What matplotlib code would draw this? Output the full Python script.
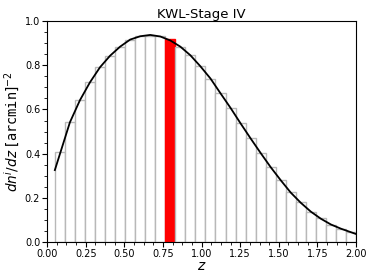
import matplotlib
matplotlib.use("Agg")
import matplotlib.pyplot as plt
import numpy as np
from matplotlib.ticker import MultipleLocator

# bin edges / heights
bin_left = [0.05, 0.115, 0.18, 0.245, 0.31, 0.375, 0.44, 0.505, 0.57, 0.635,
            0.70, 0.765, 0.83, 0.895, 0.96, 1.025, 1.09, 1.155, 1.22, 1.285,
            1.35, 1.415, 1.48, 1.545, 1.61, 1.675, 1.74, 1.805, 1.87, 1.935]
bin_width = 0.065
bar_heights = [0.409, 0.542, 0.642, 0.723, 0.791, 0.843, 0.884, 0.916, 0.931, 0.934,
               0.930, 0.917, 0.884, 0.845, 0.795, 0.740, 0.673, 0.607, 0.537, 0.469,
               0.403, 0.339, 0.282, 0.226, 0.181, 0.138, 0.108, 0.078, 0.060, 0.045]
highlight_bin = 11

curve_z = [0.05, 0.1475, 0.2125, 0.2775, 0.3425, 0.4075, 0.4725, 0.5375, 0.6025,
           0.6675, 0.7325, 0.7975, 0.8625, 0.9275, 0.9925, 1.0575, 1.1225, 1.1875,
           1.2525, 1.3175, 1.3825, 1.4475, 1.5125, 1.5775, 1.6425, 1.7075, 1.7725,
           1.8375, 1.9025, 1.9675, 2.0]
curve_n = [0.326, 0.542, 0.642, 0.723, 0.791, 0.843, 0.884, 0.916, 0.931, 0.937,
           0.930, 0.912, 0.884, 0.845, 0.795, 0.740, 0.673, 0.607, 0.537, 0.469,
           0.403, 0.339, 0.280, 0.224, 0.178, 0.138, 0.106, 0.080, 0.061, 0.045, 0.037]

fig = plt.figure(figsize=(3.74, 2.80), dpi=100)
ax = fig.add_axes([0.126, 0.135, 0.826, 0.79])

colors = ['white'] * len(bin_left)
edges = ['#b8b8b8'] * len(bin_left)
colors[highlight_bin] = 'red'
edges[highlight_bin] = 'red'
ax.bar(bin_left, bar_heights, width=bin_width, align='edge', color=colors,
       edgecolor=edges, linewidth=1.0, zorder=1)
ax.plot(curve_z, curve_n, color='black', linewidth=1.3, zorder=3)

ax.set_xlim(0, 2.0)
ax.set_ylim(0, 1.0)
ax.xaxis.set_major_locator(MultipleLocator(0.25))
ax.xaxis.set_minor_locator(MultipleLocator(0.0625))
ax.yaxis.set_major_locator(MultipleLocator(0.2))
ax.yaxis.set_minor_locator(MultipleLocator(0.05))
ax.tick_params(which='major', length=3.5, width=0.8, labelsize=7, pad=1.5)
ax.tick_params(which='minor', length=2, width=0.6)

ax.set_title('KWL-Stage IV', fontsize=9.5, pad=2)
ax.set_xlabel('$z$', fontsize=10, labelpad=0)
ax.set_ylabel(r'$dn^i/dz\ [\mathtt{arcmin}]^{-2}$', fontsize=9.8, labelpad=2)

fig.savefig('out.png', dpi=100)
